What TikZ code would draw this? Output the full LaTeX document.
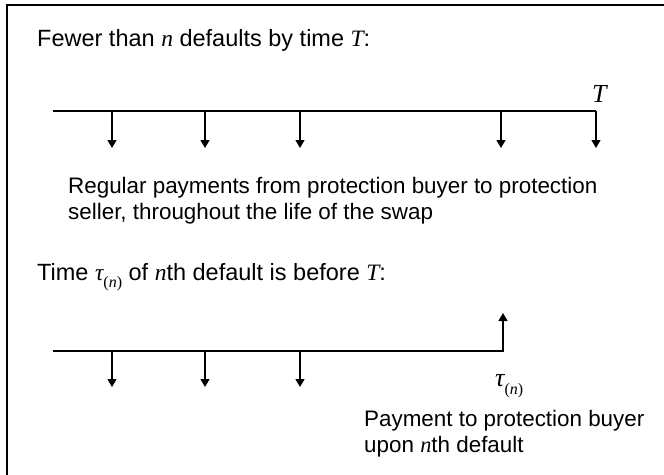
\documentclass[tikz,border=0pt]{standalone}
\usepackage{fontspec}
\setmainfont{Liberation Sans}
\newfontfamily\tmsfont{Liberation Serif}
\usetikzlibrary{arrows.meta}
% italic Times-style symbols inside sans text
\newcommand{\iv}[1]{{\tmsfont\itshape #1}}
\newcommand{\taun}[1]{{\tmsfont\itshape τ}\raisebox{-0.32em}{\fontsize{#1}{#1}\selectfont\tmsfont(\itshape n\/\upshape)}}

\begin{document}
\begin{tikzpicture}[x=1pt,y=-1pt,
  frame/.style={line width=2.4pt},
  timeline/.style={line width=1.3pt},
  pay/.style={line width=1.3pt,-{Triangle[width=9pt,length=8pt]}},
  heading/.style={anchor=base west,inner sep=0pt,font=\fontsize{23.5}{28}\selectfont},
  body/.style={anchor=base west,inner sep=0pt,align=left,font=\fontsize{22.4}{26}\selectfont},
  tlabel/.style={anchor=base west,inner sep=0pt,font=\fontsize{26}{30}\selectfont}]
\useasboundingbox (0,0) rectangle (664,474);

% open frame: only top and left edges
\coordinate (fb) at (7,480);
\coordinate (fc) at (7,5);
\coordinate (fr) at (670,5);
\draw[frame] (fb) -- (fc) -- (fr);

% ---- case 1: fewer than n defaults by T ----
\node[heading] (h1) at (37,46) {Fewer than \iv{n} defaults by time \iv{T}:};

\coordinate (a0) at (53,111);
\coordinate (a1) at (596,111);
\draw[timeline] (a0) -- (a1);
\foreach \x [count=\i] in {112,205,300,501,596} {
  \coordinate (p\i) at (\x,111);
  \coordinate (q\i) at (\x,148);
  \draw[pay] (p\i) -- (q\i);
}
\node[tlabel] (T) at (592,102) {\iv{T}};

% two-line texts: the base anchor sits on the last line
\node[body] (b1) at (68,219) {Regular payments from protection buyer to protection\\seller, throughout the life of the swap};

% ---- case 2: n-th default before T ----
\node[heading] (h2) at (37,280) {Time \taun{16} of \iv{n}th default is before \iv{T}:};

\coordinate (c0) at (53,351);
\coordinate (c1) at (503,351);
\coordinate (ct) at (503,313);
\draw[pay] (c0) -- (c1) -- (ct);
\foreach \x [count=\i] in {112,205,300} {
  \coordinate (r\i) at (\x,351);
  \coordinate (s\i) at (\x,387);
  \draw[pay] (r\i) -- (s\i);
}
\node[tlabel] (tau) at (495,386) {\taun{16}};

\node[body] (b2) at (364,452) {Payment to protection buyer\\upon \iv{n}th default};
\end{tikzpicture}
\end{document}
